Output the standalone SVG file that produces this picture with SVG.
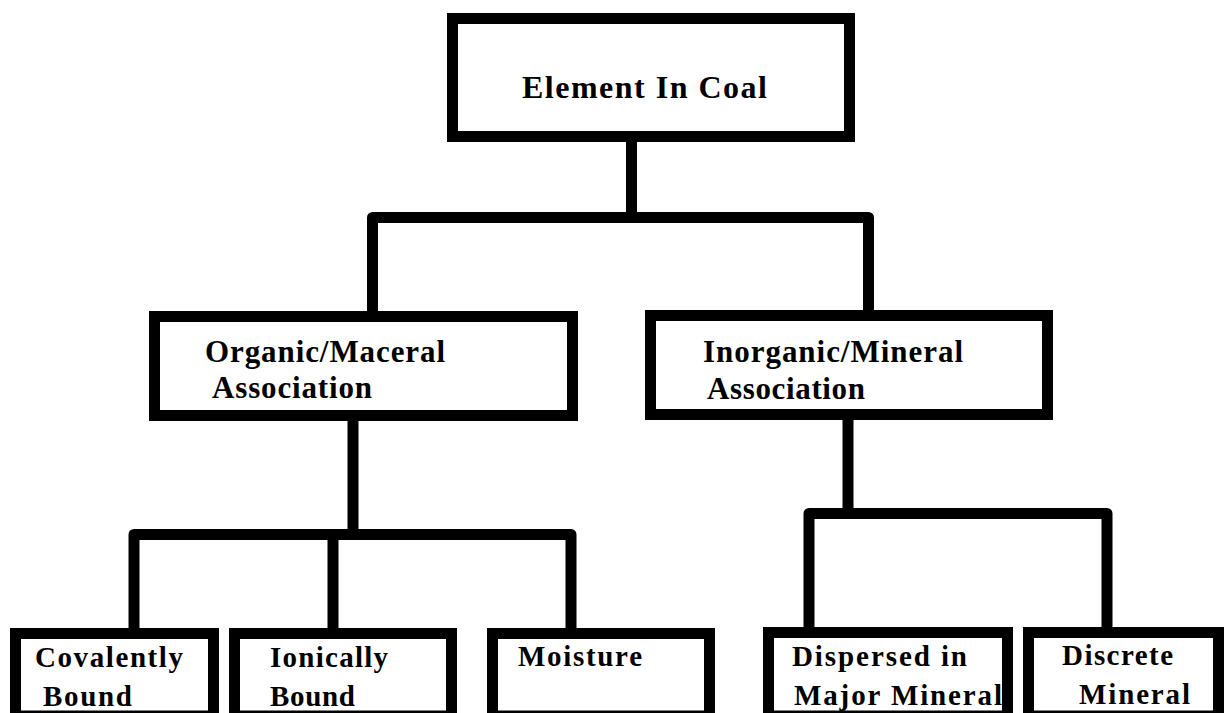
<svg xmlns="http://www.w3.org/2000/svg" width="1225" height="713" viewBox="0 0 1225 713">
<style>
.box{fill:#fff;stroke:#000;stroke-width:11;stroke-linejoin:miter}
.con{fill:none;stroke:#000;stroke-width:11;stroke-linejoin:round}
.t{font-family:"Liberation Serif","Times New Roman",serif;font-weight:bold;fill:#000}
.t30{font-size:32px}.t29{font-size:31px}.t27{font-size:29px}
</style>
<rect width="1225" height="713" fill="#fff"/>
<g id="connectors">
<path class="con" d="M631.5 142V217.5"/>
<path class="con" d="M372.5 311V217.5H868.5V310"/>
<path class="con" d="M353 421V534.5"/>
<path class="con" d="M134 628V534.5H571V628"/>
<path class="con" d="M333 534.5V628"/>
<path class="con" d="M848 420V513.5"/>
<path class="con" d="M809 627V513.5H1107V627"/>
</g>
<g id="node-element">
<rect class="box" x="452.5" y="18.5" width="397" height="118"/>
<text class="t t30" x="522" y="98" textLength="245" lengthAdjust="spacing">Element In Coal</text>
</g>
<g id="node-organic">
<rect class="box" x="154.5" y="316.5" width="418" height="99"/>
<text class="t t29" x="205" y="362" textLength="240" lengthAdjust="spacing">Organic/Maceral</text>
<text class="t t29" x="212" y="398" textLength="160" lengthAdjust="spacing">Association</text>
</g>
<g id="node-inorganic">
<rect class="box" x="650.5" y="315.5" width="397" height="99"/>
<text class="t t29" x="703" y="362" textLength="260" lengthAdjust="spacing">Inorganic/Mineral</text>
<text class="t t29" x="707" y="399" textLength="158" lengthAdjust="spacing">Association</text>
</g>
<g id="node-covalently">
<rect class="box" x="15.5" y="633.5" width="198" height="82.5"/>
<text class="t t27" x="35" y="667" textLength="148" lengthAdjust="spacing">Covalently</text>
<text class="t t27" x="43" y="706" textLength="89" lengthAdjust="spacing">Bound</text>
</g>
<g id="node-ionically">
<rect class="box" x="234.5" y="633.5" width="217" height="82.5"/>
<text class="t t27" x="270" y="667" textLength="118" lengthAdjust="spacing">Ionically</text>
<text class="t t27" x="270" y="706" textLength="85" lengthAdjust="spacing">Bound</text>
</g>
<g id="node-moisture">
<rect class="box" x="492.5" y="633.5" width="217" height="82.5"/>
<text class="t t27" x="518" y="666" textLength="124" lengthAdjust="spacing">Moisture</text>
</g>
<g id="node-dispersed">
<rect class="box" x="768.5" y="632.5" width="239" height="83.5"/>
<text class="t t27" x="792" y="666" textLength="175" lengthAdjust="spacing">Dispersed in</text>
<text class="t t27" x="794" y="705" textLength="208" lengthAdjust="spacing">Major Mineral</text>
</g>
<g id="node-discrete">
<rect class="box" x="1028.5" y="632.5" width="190" height="83.5"/>
<text class="t t27" x="1062" y="665" textLength="111" lengthAdjust="spacing">Discrete</text>
<text class="t t27" x="1079" y="704" textLength="111" lengthAdjust="spacing">Mineral</text>
</g>
</svg>
